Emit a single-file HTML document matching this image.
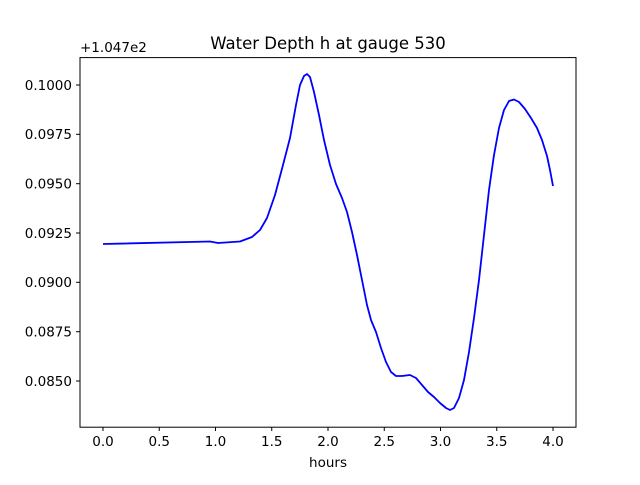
<!DOCTYPE html>
<html><head><meta charset="utf-8"><style>
body{margin:0;background:#fff;}
svg text{font-family:"DejaVu Sans","Liberation Sans",sans-serif;fill:#000;}
</style></head><body>
<svg width="640" height="480" viewBox="0 0 640 480" xmlns="http://www.w3.org/2000/svg">
<rect width="640" height="480" fill="#fff"/>
<text x="328" y="49" font-size="16.5" text-anchor="middle">Water Depth h at gauge 530</text>
<text x="80" y="52" font-size="13.5">+1.047e2</text>
<g stroke="#000" stroke-width="1">
<line x1="103" y1="427" x2="103" y2="431"/><line x1="159.25" y1="427" x2="159.25" y2="431"/>
<line x1="215.5" y1="427" x2="215.5" y2="431"/><line x1="271.75" y1="427" x2="271.75" y2="431"/>
<line x1="328" y1="427" x2="328" y2="431"/><line x1="384.25" y1="427" x2="384.25" y2="431"/>
<line x1="440.5" y1="427" x2="440.5" y2="431"/><line x1="496.75" y1="427" x2="496.75" y2="431"/>
<line x1="553" y1="427" x2="553" y2="431"/>
<line x1="76" y1="85" x2="80" y2="85"/><line x1="76" y1="134.3" x2="80" y2="134.3"/>
<line x1="76" y1="183.7" x2="80" y2="183.7"/><line x1="76" y1="233" x2="80" y2="233"/>
<line x1="76" y1="282.3" x2="80" y2="282.3"/><line x1="76" y1="331.7" x2="80" y2="331.7"/>
<line x1="76" y1="381" x2="80" y2="381"/>
</g>
<g font-size="13.5" text-anchor="middle">
<text x="103" y="446">0.0</text><text x="159.25" y="446">0.5</text><text x="215.5" y="446">1.0</text>
<text x="271.75" y="446">1.5</text><text x="328" y="446">2.0</text><text x="384.25" y="446">2.5</text>
<text x="440.5" y="446">3.0</text><text x="496.75" y="446">3.5</text><text x="553" y="446">4.0</text>
<text x="328" y="467">hours</text>
</g>
<g font-size="13.5" text-anchor="end">
<text x="72" y="90">0.1000</text><text x="72" y="139">0.0975</text><text x="72" y="188.5">0.0950</text>
<text x="72" y="238">0.0925</text><text x="72" y="287">0.0900</text><text x="72" y="336.5">0.0875</text>
<text x="72" y="386">0.0850</text>
</g>
<path fill="none" stroke="#0000ff" stroke-width="1.8" stroke-linejoin="round" d="M103,244 L210,241.5 L218,243 L240,241.5 L252,237 L260,230 L267,218 L275,195 L283,165 L290,138 L296,105 L300,85 L304,76 L307,74 L310,77 L314,92 L319,115 L324,140 L330,165 L336,184 L342,198 L347,212 L352,232 L357,255 L362,280 L367,305 L371,320 L376,332 L381,348 L386,362 L391,372 L396,376 L402,376 L410,375 L416,378 L422,385 L428,392 L434,397 L440,403 L446,408 L450,410 L454,408 L459,398 L464,380 L469,352 L474,318 L479,280 L484,235 L489,190 L494,155 L499,128 L504,110 L509,101 L514,99.5 L519,102 L525,109 L531,118 L537,128 L542,140 L547,156 L550,170 L553,186"/>
<rect x="80" y="57.6" width="496" height="369.6" fill="none" stroke="#000" stroke-width="1"/>
</svg>
</body></html>
